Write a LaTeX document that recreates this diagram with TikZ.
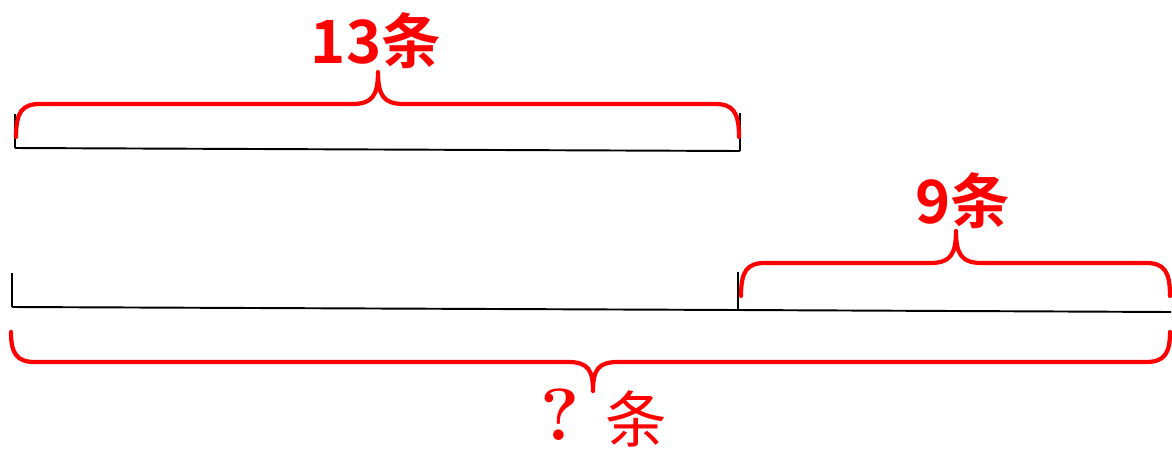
\documentclass[tikz,border=0pt]{standalone}
\usepackage{fontspec}
\newfontfamily\cjk{Noto Sans CJK SC}[BoldFont={Noto Sans CJK SC Bold}]
\usetikzlibrary{positioning}

\tikzset{
  seg/.style={line width=1.1pt, black},
  tick/.style={line width=1.1pt, black},
  brace/.style={line width=2.4pt, red, line cap=round, line join=round},
  lbl/.style={text=red, font=\cjk\bfseries\fontsize{34}{34}\selectfont, inner sep=0pt}
}

\begin{document}
\begin{tikzpicture}[x=0.2mm, y=-0.2mm]
  \useasboundingbox (0,0) rectangle (1172,452);

%line 1
  \coordinate (a0) at (15,148);
  \coordinate (a1) at (740,151);
  \draw[seg] (a0) -- (a1);
  \draw[tick] (a0) -- ++(0,-34);
  \draw[tick] (a1) -- ++(0,-38);

  \draw[brace] (16,137) .. controls (16,112) and (22,104) .. (40,104) -- (352,104)
     .. controls (372,104) and (378,96) .. (378,72)
     .. controls (378,96) and (384,104) .. (404,104) -- (715,104)
     .. controls (733,104) and (739,112) .. (739,137);
  \node[lbl] (n13) at (376,41) {13条};

%line 2
  \coordinate (b0) at (12,307);
  \coordinate (b1) at (738,310);
  \coordinate (b2) at (1171,312);
  \draw[seg] (b0) -- (b1) -- (b2);
  \draw[tick] (b0) -- ++(0,-34);
  \draw[tick] (b1) -- ++(0,-38);

  \draw[brace] (741,296) .. controls (741,271) and (747,263) .. (765,263) -- (930,263)
     .. controls (950,263) and (956,255) .. (956,231)
     .. controls (956,255) and (962,263) .. (982,263) -- (1146,263)
     .. controls (1164,263) and (1170,271) .. (1170,296);
  \node[lbl] (n9) at (963,201) {9条};

%total
  \draw[brace] (11,332) .. controls (11,354) and (17,362) .. (35,362) -- (568,362)
     .. controls (588,362) and (593,370) .. (593,391)
     .. controls (593,370) and (598,362) .. (618,362) -- (1146,362)
     .. controls (1164,362) and (1170,354) .. (1170,332);
  \node[lbl, font=\bfseries\fontsize{42}{42}\selectfont, anchor=base,
        text height=26pt, text depth=0pt] (q) at (560,440) {?};
  \node[lbl, font=\cjk\fontsize{35}{35}\selectfont, anchor=base,
        text height=28pt, text depth=3pt] (qt) at (636,442) {条};

\end{tikzpicture}
\end{document}
